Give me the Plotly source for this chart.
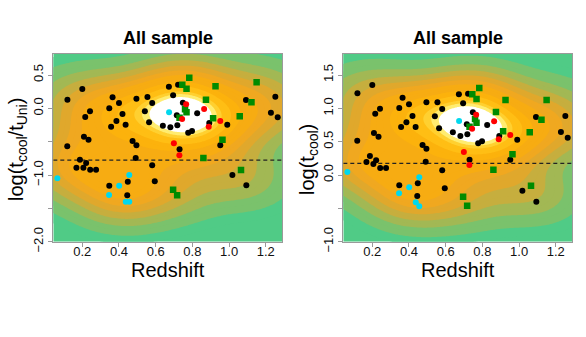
import numpy as np
import plotly.graph_objects as go

# Redshift of each object, shared by both panels
z_black = [0.200, 0.119, 0.365, 0.400, 0.347, 0.242, 0.216, 0.419, 0.386, 0.357,
           0.436, 0.495, 0.555, 0.581, 0.541, 0.564, 0.639, 0.672, 0.209, 0.234,
           0.118, 0.474, 0.495, 0.722, 0.695, 0.748, 0.715, 0.826, 1.092, 1.252,
           1.228, 1.265, 0.680, 0.718, 0.892, 0.990, 0.777, 0.798, 0.952, 0.730,
           1.018, 1.094, 0.187, 0.221, 0.168, 0.206, 0.243, 0.275, 0.491, 0.581,
           0.595, 0.448, 0.347, 0.445]
z_red = [0.766, 0.864, 0.744, 0.952, 0.889, 0.699, 0.729]
z_green = [0.783, 0.745, 0.768, 0.926, 1.150, 0.874, 1.122, 0.760, 0.768, 0.730,
           0.913, 1.058, 0.964, 0.860, 1.065, 0.695, 0.717]
z_cyan = [0.673, 0.064, 0.456, 0.401, 0.346, 0.437, 0.456]

# log(t_cool / t_Uni)  (left panel)
ratio_black = [0.29, 0.13, 0.165, 0.08, 0.0, -0.045, -0.13, -0.085, -0.19, -0.275,
               -0.245, 0.144, 0.17, 0.08, -0.045, -0.21, -0.26, 0.325, -0.425, -0.47,
               -0.57, -0.49, -0.555, 0.355, 0.195, 0.085, -0.105, -0.075, 0.125, 0.175,
               -0.065, -0.135, -0.285, -0.255, -0.22, -0.245, -0.365, -0.34, -0.555, -0.615,
               -1.0, -1.155, -0.77, -0.82, -0.89, -0.89, -0.92, -0.92, -0.745, -0.855,
               -1.095, -1.1, -1.16, -1.305]
ratio_red = [0.06, -0.01, -0.16, -0.19, -0.275, -0.525, -0.705]
ratio_green = [0.46, 0.355, 0.295, 0.33, 0.39, 0.13, 0.09, -0.015, -0.06, -0.14,
               -0.15, -0.12, -0.47, -0.745, -0.925, -1.22, -1.305]
ratio_cyan = [-0.06, -1.05, -1.0, -1.16, -1.3, -1.4, -1.4]

# log(t_cool)  (right panel)
tcool_black = [1.35, 1.225, 1.16, 1.06, 1.005, 0.995, 0.92, 0.885, 0.79, 0.72,
               0.72, 1.09, 1.09, 0.99, 0.88, 0.70, 0.64, 1.21, 0.63, 0.575,
               0.515, 0.45, 0.395, 1.22, 1.075, 0.94, 0.76, 0.75, 0.87, 0.885,
               0.645, 0.56, 0.585, 0.61, 0.585, 0.53, 0.475, 0.505, 0.23, 0.23,
               -0.235, -0.40, 0.285, 0.22, 0.195, 0.165, 0.105, 0.105, 0.2, 0.07,
               -0.2, -0.125, -0.155, -0.315]
tcool_red = [0.905, 0.805, 0.695, 0.60, 0.535, 0.345, 0.15]
tcool_green = [1.305, 1.21, 1.14, 1.125, 1.125, 0.945, 0.83, 0.84, 0.785, 0.725,
               0.655, 0.64, 0.31, 0.08, -0.16, -0.325, -0.46]
tcool_cyan = [0.81, 0.045, -0.035, -0.185, -0.275, -0.41, -0.47]

cut_ratio = -0.778
cut_tcool = 0.176

x_range = [0.042, 1.29]
y_range_ratio = [-2.0, 0.815]
y_range_tcool = [-1.0, 1.815]

# density bands (24 equal steps of the scaled density), low -> high
band_colors = (["#50CB86"] * 2 + ["#7AC26C"] * 2 + ["#A2B854"] * 2 + ["#C6AE3E"] * 2
               + ["#E0A82C"] * 2 + ["#F0A820"] * 2 + ["#F7AC12"] * 3 + ["#FCB20C"] * 2
               + ["#FFBE14"] * 2 + ["#FFD030"] + ["#FFEC70"] + ["#FFFFFF"] * 3)

FONT = "Liberation Sans, Arial, sans-serif"


def kde_grid(xs, ys, yr):
    xs = np.asarray(xs, float)
    ys = np.asarray(ys, float)
    n = len(xs)

    def bw(v):
        iqr = np.subtract(*np.percentile(v, [75, 25]))
        return 1.06 * min(v.std(ddof=1), iqr / 1.34) * n ** (-0.2) * 1.25

    hx, hy = bw(xs), bw(ys)
    gx = np.linspace(x_range[0], x_range[1], 160)
    gy = np.linspace(yr[0], yr[1], 160)
    dx = (gx[None, :, None] - xs[None, None, :]) / hx
    dy = (gy[:, None, None] - ys[None, None, :]) / hy
    dens = np.exp(-0.5 * (dx ** 2 + dy ** 2)).sum(axis=2)
    return gx, gy, (dens / dens.max()) ** 0.7


nb = len(band_colors)
cscale = []
for i, c in enumerate(band_colors):
    cscale.append([i / nb, c])
    cscale.append([(i + 1) / nb, c])

fig = go.Figure()

panels = [
    ("x", "y", ratio_black, ratio_red, ratio_green, ratio_cyan, y_range_ratio, cut_ratio),
    ("x2", "y2", tcool_black, tcool_red, tcool_green, tcool_cyan, y_range_tcool, cut_tcool),
]

for xa, ya, yb, yrd, yg, yc, yr, cut in panels:
    gx, gy, dens = kde_grid(z_black + z_red + z_green + z_cyan, yb + yrd + yg + yc, yr)
    fig.add_trace(go.Contour(
        x=gx, y=gy, z=dens, xaxis=xa, yaxis=ya,
        colorscale=cscale, zmin=0, zmax=1, showscale=False,
        contours=dict(start=1 / nb, end=1 - 1 / nb + 1e-6, size=1 / nb, coloring="fill"),
        line=dict(width=0), hoverinfo="skip"))
    fig.add_trace(go.Scatter(
        x=list(x_range), y=[cut, cut], xaxis=xa, yaxis=ya, mode="lines",
        line=dict(color="#222222", width=1.3, dash="4px,3px"), hoverinfo="skip"))
    fig.add_trace(go.Scatter(x=z_black, y=yb, xaxis=xa, yaxis=ya, mode="markers",
                             marker=dict(color="black", size=6)))
    fig.add_trace(go.Scatter(x=z_green, y=yg, xaxis=xa, yaxis=ya, mode="markers",
                             marker=dict(color="#008B00", size=6.5, symbol="square")))
    fig.add_trace(go.Scatter(x=z_red, y=yrd, xaxis=xa, yaxis=ya, mode="markers",
                             marker=dict(color="#FF0000", size=6)))
    fig.add_trace(go.Scatter(x=z_cyan, y=yc, xaxis=xa, yaxis=ya, mode="markers",
                             marker=dict(color="#00D8EE", size=6)))

W, H = 586, 337
left_dom = [53.3 / W, 282.3 / W]
right_dom = [343.3 / W, 572.3 / W]
y_dom = [1 - 241.7 / H, 1 - 54 / H]

axis_common = dict(
    showgrid=False, zeroline=False, showline=True, mirror=True, automargin=False,
    linecolor="#9a9a9a", linewidth=1, ticks="outside", ticklen=4,
    tickcolor="#9a9a9a", tickfont=dict(family=FONT, size=13, color="#111111"),
)
xticks = [0.2, 0.4, 0.6, 0.8, 1.0, 1.2]
xtext = ["0.2", "0.4", "0.6", "0.8", "1.0", "1.2"]

fig.update_layout(
    width=W, height=H, margin=dict(l=0, r=0, t=0, b=0),
    paper_bgcolor="white", plot_bgcolor="white", showlegend=False,
    font=dict(family=FONT, color="black"),
    xaxis=dict(domain=left_dom, range=x_range, tickvals=xticks, ticktext=xtext,
               anchor="y", ticklabelstandoff=-6, **axis_common),
    yaxis=dict(domain=y_dom, range=y_range_ratio, anchor="x",
               tickvals=[0.5, 0.0, -0.5, -1.0, -1.5, -2.0],
               ticktext=["0.5", "0.0", "", "\u22121.0", "", "\u22122.0"],
               tickangle=-90, **axis_common),
    xaxis2=dict(domain=right_dom, range=x_range, tickvals=xticks, ticktext=xtext,
                anchor="y2", ticklabelstandoff=-6, **axis_common),
    yaxis2=dict(domain=y_dom, range=y_range_tcool, anchor="x2",
                tickvals=[1.5, 1.0, 0.5, 0.0, -0.5, -1.0],
                ticktext=["1.5", "1.0", "0.5", "0.0", "", "\u22121.0"],
                tickangle=-90, **axis_common),
)

ann = []
for dom in (left_dom, right_dom):
    cx = (dom[0] + dom[1]) / 2
    ann.append(dict(text="<b>All sample</b>", x=cx, y=1 - 38 / H, xref="paper", yref="paper",
                    xanchor="center", yanchor="middle", showarrow=False,
                    font=dict(family=FONT, size=18, color="black")))
    ann.append(dict(text="Redshift", x=cx, y=1 - 270 / H, xref="paper", yref="paper",
                    xanchor="center", yanchor="middle", showarrow=False,
                    font=dict(family=FONT, size=20, color="black")))
ann.append(dict(text="log(t<sub>cool</sub>/t<sub>Uni</sub>)", x=17 / W, y=1 - 150 / H,
                xref="paper", yref="paper", xanchor="center", yanchor="middle",
                textangle=-90, showarrow=False, font=dict(family=FONT, size=20, color="black")))
ann.append(dict(text="log(t<sub>cool</sub>)", x=308 / W, y=1 - 160 / H,
                xref="paper", yref="paper", xanchor="center", yanchor="middle",
                textangle=-90, showarrow=False, font=dict(family=FONT, size=20, color="black")))
fig.update_layout(annotations=ann)

fig.write_html("out.html", config={"displayModeBar": False},
               post_script="document.body.style.margin = '0px';")
